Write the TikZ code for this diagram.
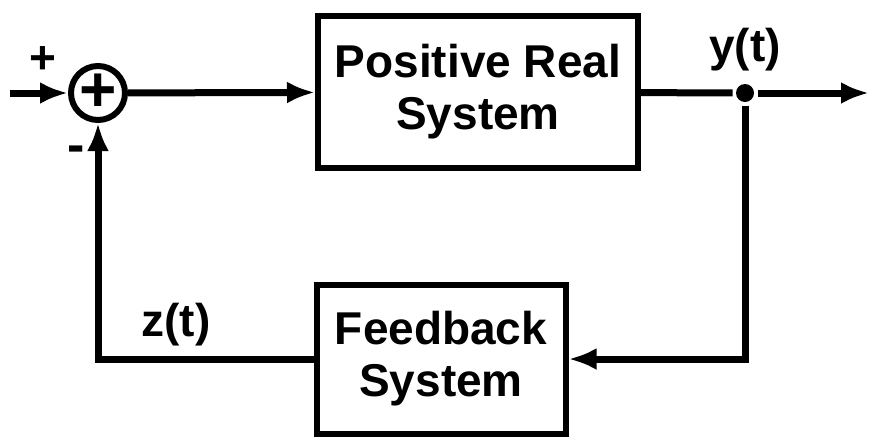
\documentclass[tikz,border=0pt]{standalone}
\usepackage{fontspec}
\setmainfont{Liberation Sans}
\usetikzlibrary{arrows.meta}

\begin{document}
\begin{tikzpicture}[x=0.5pt, y=-0.5pt, line width=3.5pt,
    every node/.style={font=\bfseries\fontsize{23}{26}\selectfont},
    block/.style={rectangle, draw, line width=3pt, align=center, inner sep=0pt},
    sum/.style={circle, draw, line width=3pt, minimum size=27pt, inner sep=0pt},
    arr/.style={-{Latex[length=14pt,width=11pt]}}]
  \useasboundingbox (0,0) rectangle (871,440);
  % blocks
  \node[sum, font=\bfseries\fontsize{32}{32}\selectfont] (sum) at (98,93) {+};
  \node[block, minimum width=160pt, minimum height=76pt] (plant) at (478,92) {Positive Real\\System};
  \node[block, minimum width=124.5pt, minimum height=74.5pt] (fb) at (441,359) {Feedback\\System};
  \node[circle, fill, inner sep=0pt, minimum size=9pt] (tap) at (745,93) {};
  \coordinate (in) at (10,93);
  \coordinate (out) at (869,93);
  % signals
  \draw[arr] (in) -- (sum);
  \draw[arr] (sum) -- (plant);
  \draw (plant) -- (tap);
  \draw[arr] (tap) -- (out);
  \draw[arr] (tap) |- (fb);
  \draw[arr] (fb) -| (sum);
  % labels
  \node (plus) at (43,60) {+};
  \node[font=\bfseries\fontsize{26}{26}\selectfont] (minus) at (76,154) {-};
  \node (ylab) at (745,50) {y(t)};
  \node (zlab) at (176,325) {z(t)};
\end{tikzpicture}
\end{document}
